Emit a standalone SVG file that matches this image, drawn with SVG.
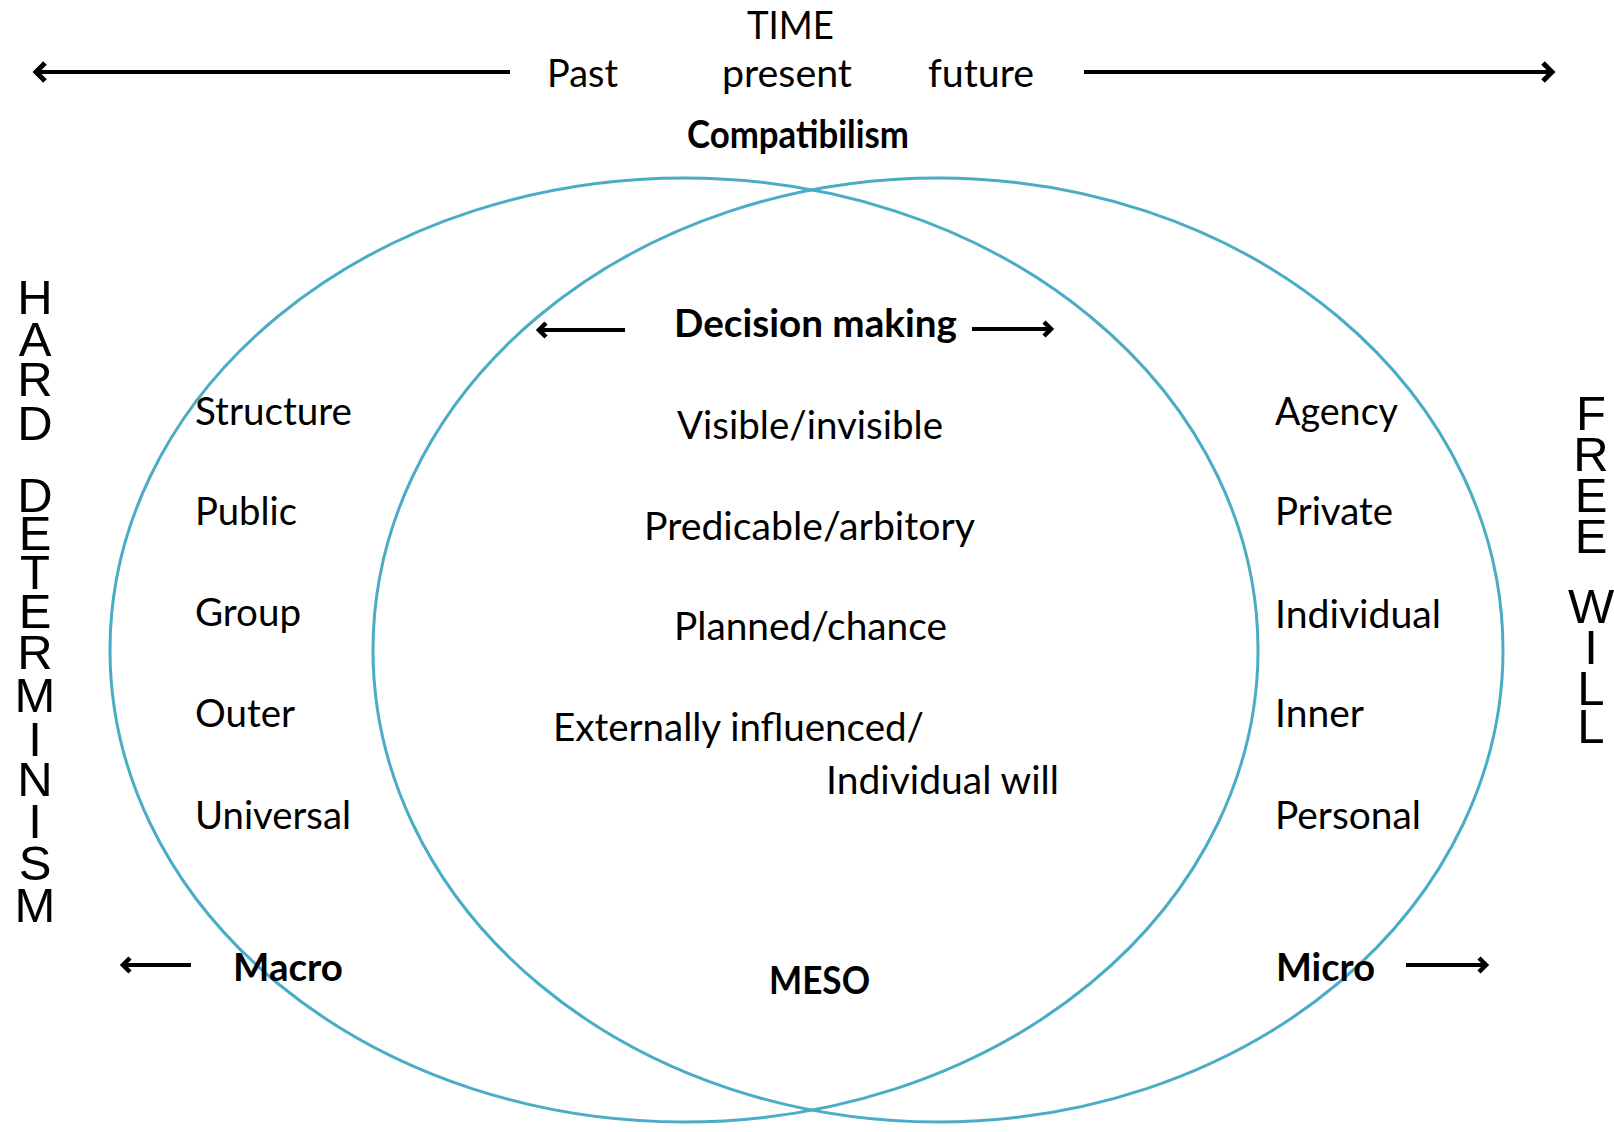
<svg xmlns="http://www.w3.org/2000/svg" width="1614" height="1132" viewBox="0 0 1614 1132">
<style>
.t{font-family:Lato,"Liberation Sans",sans-serif;font-size:39px;fill:#000}
.b{font-weight:bold}
.v{font-family:"Liberation Sans",Arial,sans-serif;font-size:49px;fill:#000;text-anchor:middle}
.ell{fill:none;stroke:#4BACC6;stroke-width:3}
.arr{fill:none;stroke:#000;stroke-width:4;marker-end:url(#head)}
.arr2{fill:none;stroke:#000;stroke-width:4;marker-end:url(#head2)}
</style>
<defs>
<marker id="head" markerUnits="userSpaceOnUse" markerWidth="22" markerHeight="24" refX="14" refY="12" orient="auto" viewBox="0 0 22 24">
<path d="M5,3 L14,12 L5,21" fill="none" stroke="#000" stroke-width="5" stroke-linejoin="miter"/>
</marker>
<marker id="head2" markerUnits="userSpaceOnUse" markerWidth="20" markerHeight="20" refX="12" refY="10" orient="auto" viewBox="0 0 20 20">
<path d="M5,3 L12,10 L5,17" fill="none" stroke="#000" stroke-width="4.5" stroke-linejoin="miter"/>
</marker>
</defs>
<rect width="1614" height="1132" fill="#fff"/>
<g id="ellipses">
<ellipse id="left-ellipse" class="ell" cx="684" cy="650" rx="574" ry="472"/>
<ellipse id="right-ellipse" class="ell" cx="938" cy="650" rx="565" ry="472"/>
</g>
<g id="connectors">
<line class="arr" x1="510" y1="72" x2="36" y2="72"/>
<line class="arr" x1="1084" y1="72" x2="1552" y2="72"/>
<line class="arr2" x1="625" y1="330" x2="539" y2="330"/>
<line class="arr2" x1="972" y1="329" x2="1051" y2="329"/>
<line class="arr2" x1="191" y1="965" x2="123" y2="965"/>
<line class="arr2" x1="1406" y1="965" x2="1486" y2="965"/>
</g>
<g id="time">
<text class="t" x="747" y="39" font-size="40" textLength="87" lengthAdjust="spacingAndGlyphs">TIME</text>
<text class="t" x="547" y="87" textLength="71" lengthAdjust="spacingAndGlyphs">Past</text>
<text class="t" x="722" y="87" textLength="130" lengthAdjust="spacingAndGlyphs">present</text>
<text class="t" x="928" y="87" textLength="106" lengthAdjust="spacingAndGlyphs">future</text>
</g>
<g id="compatibilism">
<text class="t b" x="687" y="148" font-size="34" textLength="222" lengthAdjust="spacingAndGlyphs">Compatibilism</text>
</g>
<g id="hard-determinism">
<text class="v"><tspan x="35" y="314">H</tspan><tspan x="35" y="356">A</tspan><tspan x="35" y="396">R</tspan><tspan x="35" y="440">D</tspan><tspan x="35" y="512">D</tspan><tspan x="35" y="550">E</tspan><tspan x="35" y="589">T</tspan><tspan x="35" y="628">E</tspan><tspan x="35" y="669">R</tspan><tspan x="35" y="712">M</tspan><tspan x="35" y="756">I</tspan><tspan x="35" y="796">N</tspan><tspan x="35" y="838">I</tspan><tspan x="35" y="880">S</tspan><tspan x="35" y="922">M</tspan></text>
</g>
<g id="free-will">
<text class="v"><tspan x="1591" y="430">F</tspan><tspan x="1591" y="471">R</tspan><tspan x="1591" y="512">E</tspan><tspan x="1591" y="553">E</tspan><tspan x="1591" y="623">W</tspan><tspan x="1591" y="664">I</tspan><tspan x="1591" y="705">L</tspan><tspan x="1591" y="743">L</tspan></text>
</g>
<g id="macro">
<text class="t" x="195" y="425" textLength="157" lengthAdjust="spacingAndGlyphs">Structure</text>
<text class="t" x="195" y="525" textLength="102" lengthAdjust="spacingAndGlyphs">Public</text>
<text class="t" x="195" y="626" textLength="106" lengthAdjust="spacingAndGlyphs">Group</text>
<text class="t" x="195" y="727" textLength="100" lengthAdjust="spacingAndGlyphs">Outer</text>
<text class="t" x="195" y="829" textLength="156" lengthAdjust="spacingAndGlyphs">Universal</text>
<text class="t b" x="233" y="981" font-size="36" textLength="110" lengthAdjust="spacingAndGlyphs">Macro</text>
</g>
<g id="meso">
<text class="t b" x="674" y="337" textLength="283" lengthAdjust="spacingAndGlyphs">Decision making</text>
<text class="t" x="677" y="439" textLength="266" lengthAdjust="spacingAndGlyphs">Visible/invisible</text>
<text class="t" x="644" y="540" textLength="331" lengthAdjust="spacingAndGlyphs">Predicable/arbitory</text>
<text class="t" x="674" y="640" textLength="273" lengthAdjust="spacingAndGlyphs">Planned/chance</text>
<text class="t" x="553" y="741" textLength="371" lengthAdjust="spacingAndGlyphs">Externally influenced/</text>
<text class="t" x="826" y="794" textLength="233" lengthAdjust="spacingAndGlyphs">Individual will</text>
<text class="t b" x="769" y="994" font-size="37" textLength="101" lengthAdjust="spacingAndGlyphs">MESO</text>
</g>
<g id="micro">
<text class="t" x="1275" y="425" textLength="123" lengthAdjust="spacingAndGlyphs">Agency</text>
<text class="t" x="1275" y="525" textLength="118" lengthAdjust="spacingAndGlyphs">Private</text>
<text class="t" x="1275" y="628" textLength="166" lengthAdjust="spacingAndGlyphs">Individual</text>
<text class="t" x="1275" y="727" textLength="89" lengthAdjust="spacingAndGlyphs">Inner</text>
<text class="t" x="1275" y="829" textLength="146" lengthAdjust="spacingAndGlyphs">Personal</text>
<text class="t b" x="1276" y="981" font-size="36" textLength="99" lengthAdjust="spacingAndGlyphs">Micro</text>
</g>
</svg>
